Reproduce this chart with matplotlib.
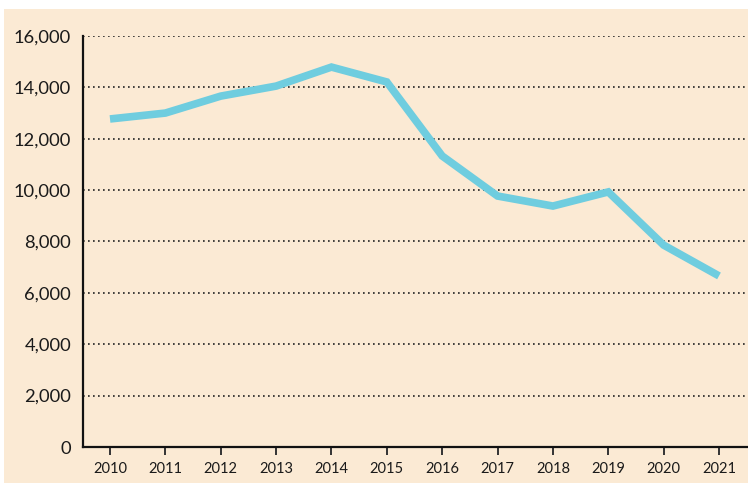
import matplotlib
matplotlib.use("Agg")
import matplotlib.pyplot as plt
from matplotlib.patches import Rectangle
from matplotlib.ticker import FuncFormatter

years = [2010, 2011, 2012, 2013, 2014, 2015, 2016, 2017, 2018, 2019, 2020, 2021]
values = [12770, 13000, 13660, 14050, 14790, 14210, 11330, 9770, 9380, 9930, 7860, 6660]
y_ticks = [0, 2000, 4000, 6000, 8000, 10000, 12000, 14000, 16000]

W, H = 748, 483
bg = "#FBEAD4"
fig = plt.figure(figsize=(W / 100, H / 100), dpi=100, facecolor="white")
fig.patches.append(Rectangle((4 / W, 0), 1, 1 - 9 / H, transform=fig.transFigure,
                             facecolor=bg, edgecolor="none", zorder=-10))

ax_l, ax_r = 83 / W, 747 / W
ax_b, ax_t = 1 - 447 / H, 1 - 36 / H
ax = fig.add_axes([ax_l, ax_b, ax_r - ax_l, ax_t - ax_b])
ax.set_facecolor("none")

px_per_year = (719 - 110) / 11
ax.set_xlim(2010 - (110 - 83) / px_per_year, 2021 + (747 - 719) / px_per_year)
ax.set_ylim(0, 16000)

for t in y_ticks[1:]:
    ax.axhline(t, color="#222222", lw=1.2, ls=(0, (1, 2)), zorder=1)

ax.plot(years, values, color="#6FCDDF", lw=5.5, solid_joinstyle="miter",
        solid_capstyle="butt", zorder=3)

ax.set_xticks(years)
ax.set_yticks(y_ticks)
ax.yaxis.set_major_formatter(FuncFormatter(lambda v, p: f"{int(v):,}"))

for s in ["top", "right"]:
    ax.spines[s].set_visible(False)
for s in ["left", "bottom"]:
    ax.spines[s].set_linewidth(1.6)
    ax.spines[s].set_color("#111111")
    ax.spines[s].set_zorder(4)

ax.tick_params(axis="y", length=0, pad=8.5, labelsize=13.2, labelcolor="#1a1a1a")
ax.tick_params(axis="x", length=6, width=1.4, color="#333333", pad=5,
               labelsize=10.5, labelcolor="#1a1a1a", direction="out")
for lab in ax.get_xticklabels() + ax.get_yticklabels():
    lab.set_fontfamily("Lato")

fig.savefig("out.png", dpi=100, facecolor="white")
